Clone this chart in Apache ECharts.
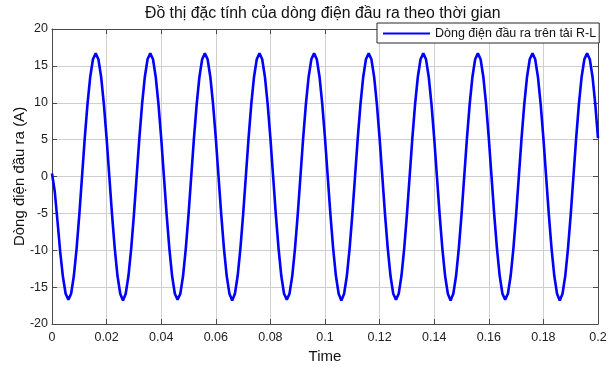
<!DOCTYPE html>
<html>
<head>
<meta charset="utf-8">
<script src="https://cdn.jsdelivr.net/npm/echarts@6/dist/echarts.min.js"></script>
<style>
  html, body { margin: 0; padding: 0; background: #fff; }
  #chart { width: 614px; height: 367px; }
</style>
</head>
<body>
<div id="chart"></div>
<script>
const sampleStep = 0.001;
const current = [
  0.4,
  -2.0, -6.0, -10.2, -13.6, -15.9, -16.7, -15.9, -13.5, -9.8, -5.2, 0, 5.2, 9.8, 13.5, 15.9, 16.7, 15.9, 13.5, 9.8, 5.2,
  0, -5.2, -9.8, -13.5, -15.9, -16.8, -15.9, -13.5, -9.8, -5.2, 0, 5.2, 9.8, 13.5, 15.9, 16.7, 15.9, 13.5, 9.8, 5.2,
  0, -5.2, -9.8, -13.5, -15.9, -16.7, -15.9, -13.5, -9.8, -5.2, 0, 5.2, 9.8, 13.5, 15.9, 16.7, 15.9, 13.5, 9.8, 5.2,
  0, -5.2, -9.8, -13.5, -15.9, -16.8, -15.9, -13.5, -9.8, -5.2, 0, 5.2, 9.8, 13.5, 15.9, 16.7, 15.9, 13.5, 9.8, 5.2,
  0, -5.2, -9.8, -13.5, -15.9, -16.7, -15.9, -13.5, -9.8, -5.2, 0, 5.2, 9.8, 13.5, 15.9, 16.7, 15.9, 13.5, 9.8, 5.2,
  0, -5.2, -9.8, -13.5, -15.9, -16.8, -15.9, -13.5, -9.8, -5.2, 0, 5.2, 9.8, 13.5, 15.9, 16.7, 15.9, 13.5, 9.8, 5.2,
  0, -5.2, -9.8, -13.5, -15.9, -16.7, -15.9, -13.5, -9.8, -5.2, 0, 5.2, 9.8, 13.5, 15.9, 16.7, 15.9, 13.5, 9.8, 5.2,
  0, -5.2, -9.8, -13.5, -15.9, -16.8, -15.9, -13.5, -9.8, -5.2, 0, 5.2, 9.8, 13.5, 15.9, 16.7, 15.9, 13.5, 9.8, 5.2,
  0, -5.2, -9.8, -13.5, -15.9, -16.7, -15.9, -13.5, -9.8, -5.2, 0, 5.2, 9.8, 13.5, 15.9, 16.7, 15.9, 13.5, 9.8, 5.2,
  0, -5.2, -9.8, -13.5, -15.9, -16.8, -15.9, -13.5, -9.8, -5.2, 0, 5.2, 9.8, 13.5, 15.9, 16.7, 15.9, 13.5, 9.8, 5.2
];
const xTicks = [0, 0.02, 0.04, 0.06, 0.08, 0.1, 0.12, 0.14, 0.16, 0.18, 0.2];
const yTicks = [-20, -15, -10, -5, 0, 5, 10, 15, 20];

const titleText = "Đồ thị đặc tính của dòng điện đầu ra theo thời gian";
const seriesName = "Dòng điện đầu ra trên tải R-L";

const points = current.map((v, i) => [+(i * sampleStep).toFixed(3), v]);

const font = "Liberation Sans, Arial, sans-serif";
const frame = "#4a4a4a";

const baseX = {
  type: "value",
  min: xTicks[0],
  max: xTicks[xTicks.length - 1],
  interval: 0.02,
  axisLine: {show: true, onZero: false, lineStyle: {color: frame, width: 1}},
  axisTick: {show: true, inside: true, length: 5, lineStyle: {color: frame}},
  splitLine: {show: false},
  axisLabel: {show: false}
};
const baseY = {
  type: "value",
  min: yTicks[0],
  max: yTicks[yTicks.length - 1],
  interval: 5,
  axisLine: {show: true, onZero: false, lineStyle: {color: frame, width: 1}},
  axisTick: {show: true, inside: true, length: 5, lineStyle: {color: frame}},
  splitLine: {show: false},
  axisLabel: {show: false}
};

const chart = echarts.init(document.getElementById("chart"), null, {renderer: "canvas"});
chart.setOption({
  animation: false,
  backgroundColor: "#fff",
  textStyle: {fontFamily: font},
  title: {
    text: titleText,
    left: 145,
    top: 6,
    padding: 0,
    textStyle: {fontFamily: font, fontSize: 15.8, fontWeight: "normal", color: "#111"}
  },
  legend: {
    data: [{name: seriesName, icon: "rect"}],
    left: 377,
    top: 23,
    padding: [4, 3, 3, 6],
    itemWidth: 47,
    itemHeight: 2,
    itemGap: 4,
    borderColor: "#262626",
    borderWidth: 1,
    backgroundColor: "#fff",
    textStyle: {fontFamily: font, fontSize: 12.5, color: "#111"}
  },
  grid: {left: 52, right: 16, top: 29, bottom: 43, containLabel: false, outerBoundsMode: "none"},
  xAxis: [
    Object.assign({}, baseX, {
      position: "bottom",
      name: "Time",
      nameLocation: "middle",
      nameGap: 25,
      nameMoveOverlap: false,
      nameTextStyle: {fontFamily: font, fontSize: 15, color: "#111"},
      splitLine: {show: true, lineStyle: {color: "#cfcfcf", width: 1}},
      axisLabel: {show: true, margin: 7, fontSize: 12.5, color: "#222", fontFamily: font,
        formatter: v => String(+v.toFixed(2))}
    }),
    Object.assign({}, baseX, {position: "top"})
  ],
  yAxis: [
    Object.assign({}, baseY, {
      position: "left",
      name: "Dòng điện đầu ra (A)",
      nameLocation: "middle",
      nameGap: 25,
      nameMoveOverlap: false,
      nameTextStyle: {fontFamily: font, fontSize: 15, color: "#111"},
      splitLine: {show: true, lineStyle: {color: "#cfcfcf", width: 1}},
      axisLabel: {show: true, margin: 4, fontSize: 12.5, color: "#222", fontFamily: font}
    }),
    Object.assign({}, baseY, {position: "right"})
  ],
  series: [{
    name: seriesName,
    type: "line",
    xAxisIndex: 0,
    yAxisIndex: 0,
    showSymbol: false,
    symbol: "none",
    data: points,
    lineStyle: {color: "#0000ff", width: 2.6},
    itemStyle: {color: "#0000ff"}
  }]
});
</script>
</body>
</html>
